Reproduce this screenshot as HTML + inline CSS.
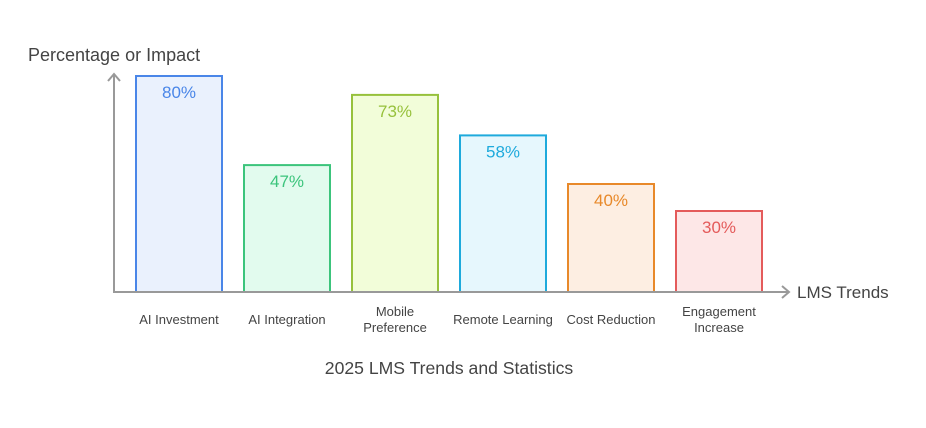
<!DOCTYPE html>
<html><head><meta charset="utf-8"><style>
body{margin:0;background:#fff;width:926px;height:423px;overflow:hidden}
svg{font-family:"Liberation Sans",Arial,sans-serif}
</style></head><body>
<svg id="chart" width="926" height="423">
<text x="28" y="61" font-size="18" fill="#444">Percentage or Impact</text>
<text x="797" y="298" font-size="17" fill="#444">LMS Trends</text>
<text x="449" y="374" font-size="17.6" fill="#444" text-anchor="middle">2025 LMS Trends and Statistics</text>
<g id="bars"></g>
<line x1="114" y1="292" x2="114" y2="74" stroke="#999" stroke-width="2"/>
<polyline points="108,81 114,74 120,81" fill="none" stroke="#999" stroke-width="2"/>
<line x1="113" y1="292" x2="789" y2="292" stroke="#999" stroke-width="2"/>
<polyline points="782,286 789,292 782,298" fill="none" stroke="#999" stroke-width="2"/>
</svg>
<script>
const categories=[["AI Investment"],["AI Integration"],["Mobile","Preference"],["Remote Learning"],["Cost Reduction"],["Engagement","Increase"]];
const values=[80,47,73,58,40,30];
const labels=["80%","47%","73%","58%","40%","30%"];
const strokes=["#4a86e8","#3cc47c","#97c13c","#1eaadc","#e8892a","#e45b5b"];
const fills=["#eaf1fd","#e2fbee","#f2fdd9","#e6f7fd","#fdeee2","#fde7e7"];
const ns="http://www.w3.org/2000/svg";
const g=document.getElementById('bars');
const y=v=>292-v*2.7;
const x=i=>136+i*108;
values.forEach((v,i)=>{
 const r=document.createElementNS(ns,'rect');
 
 
 r.setAttribute('x',x(i));r.setAttribute('y',y(v));r.setAttribute('width',86);r.setAttribute('height',292-y(v));
 r.setAttribute('fill',fills[i]);r.setAttribute('stroke',strokes[i]);r.setAttribute('stroke-width',2);
 g.appendChild(r);
 const t=document.createElementNS(ns,'text');
 
 
 t.setAttribute('x',x(i)+43);t.setAttribute('y',y(v)+22);t.setAttribute('text-anchor','middle');
 t.setAttribute('font-size','17');t.setAttribute('fill',strokes[i]);t.textContent=labels[i];
 g.appendChild(t);
 const lines=categories[i];
 lines.forEach((s,j)=>{
  const c=document.createElementNS(ns,'text');
  
  
  c.setAttribute('x',x(i)+43);
  c.setAttribute('y',(lines.length===1?324:316)+j*16);
  c.setAttribute('text-anchor','middle');c.setAttribute('font-size','13');c.setAttribute('fill','#444');
  c.textContent=s;g.appendChild(c);
 });
});
</script>
</body></html>
